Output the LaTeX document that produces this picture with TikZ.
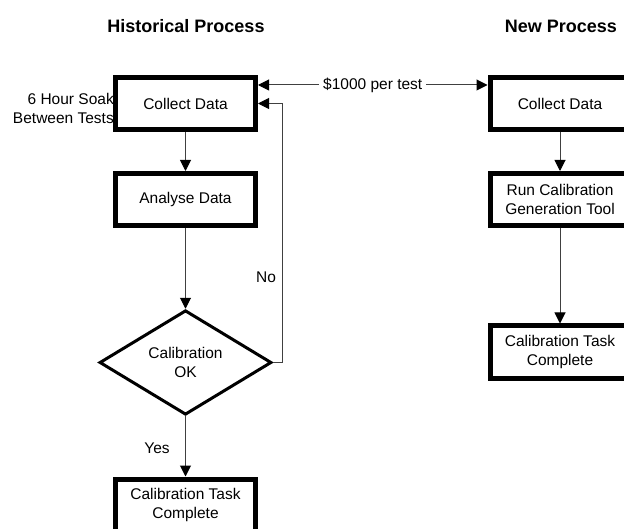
\documentclass[tikz,border=0pt]{standalone}
\usepackage{fontspec}
\setmainfont{Liberation Sans}
\usetikzlibrary{shapes.geometric,arrows.meta}
\begin{document}
\begin{tikzpicture}[x=1pt,y=-1pt,
  body/.style={font=\fontsize{15.5}{19}\selectfont},
  title/.style={font=\fontsize{18}{22}\selectfont\bfseries},
  procbox/.style={body,draw=black,line width=5pt,fill=white,minimum width=140pt,minimum height=52pt,align=center,inner sep=2pt},
  decision/.style={body,draw=black,line width=3pt,fill=white,shape=diamond,minimum width=172pt,minimum height=104pt,inner sep=0pt,align=center},
  flow/.style={draw=black!75,line width=1pt,-{Triangle[length=11pt,width=11pt,color=black]}},
  both/.style={draw=black!75,line width=1pt,{Triangle[length=11pt,width=11pt,color=black]}-{Triangle[length=11pt,width=11pt,color=black]}},
  lbl/.style={body,inner sep=0pt}]
\useasboundingbox (0,0) rectangle (624,529);
% titles
\node[title] (t1) at (186,26) {Historical Process};
\node[title] (t2) at (561,26) {New Process};
% side note
\node[lbl,align=right,anchor=east] (soak) at (114,108) {6 Hour Soak\\Between Tests};
% left column
\node[procbox] (cd1) at (185.5,103.5) {Collect Data};
\node[procbox] (ad) at (185.5,199.5) {Analyse Data};
\node[decision] (dia) at (185.5,362.5) {Calibration\\OK};
\node[procbox] (cc1) at (185.5,505) {Calibration Task\\Complete};
% right column
\node[procbox] (cd2) at (560,103.5) {Collect Data};
\node[procbox] (rc) at (560,199.5) {Run Calibration\\Generation Tool};
\node[procbox] (cc2) at (560,352) {Calibration Task\\Complete};
% connectors
\draw[flow] (cd1) -- (ad);
\draw[flow] (ad) -- (dia);
\coordinate (nocorner) at (282,362.5);
\draw[flow] (dia.east) -- (nocorner) |- (cd1.east);
\node[lbl] (nolbl) at (266,277) {No};
\draw[flow] (dia.south) -- (cc1.north);
\node[lbl] (yeslbl) at (157,448) {Yes};
\draw[both] ([yshift=18.5pt]cd1.east) -- node[body,fill=white,inner sep=4pt] (cost) {\$1000 per test} ([yshift=18.5pt]cd2.west);
\draw[flow] (cd2) -- (rc);
\draw[flow] (rc) -- (cc2);
\end{tikzpicture}
\end{document}
